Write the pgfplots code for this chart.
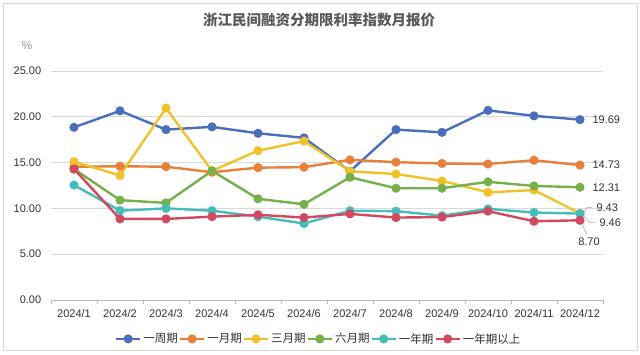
\documentclass[border=0pt]{standalone}
\usepackage{pgfplots}
\pgfplotsset{compat=1.18}
\usepackage{fontspec}
\setmainfont{Liberation Sans}
\newfontfamily\cjk{Noto Sans CJK SC}
\definecolor{cblue}{HTML}{4A6FBA}
\definecolor{corange}{HTML}{E8803A}
\definecolor{cyellow}{HTML}{F0C22A}
\definecolor{cgreen}{HTML}{76B04A}
\definecolor{ccyan}{HTML}{45BDB8}
\definecolor{cred}{HTML}{D2485F}
\definecolor{tickc}{HTML}{333333}
\definecolor{gridc}{HTML}{D9D9D9}
\begin{document}
\begin{tikzpicture}
\path[use as bounding box] (-51pt,-55pt) rectangle (589pt,300pt);
\draw[gridc, line width=0.8pt] (-48pt,-50pt) rectangle (586pt,297pt);
\begin{axis}[
  at={(0,0)}, anchor=south west,
  scale only axis, width=552pt, height=229pt,
  xmin=-0.5, xmax=11.5, ymin=0, ymax=25,
  axis x line*=bottom, axis y line*=left,
  y axis line style={draw=none},
  x axis line style={draw=gray!55, -},
  ytick={0,5,10,15,20,25},
  ymajorgrids, grid style={gridc, line width=0.8pt},
  ytick style={draw=none},
  xtick={0,...,11},
  xticklabels={2024/1,2024/2,2024/3,2024/4,2024/5,2024/6,2024/7,2024/8,2024/9,2024/10,2024/11,2024/12},
  major x tick style={draw=none},
  minor xtick={-0.5,0.5,...,11.5},
  minor x tick style={draw=gray!55, line width=0.6pt},
  minor tick length=4pt,
  tick align=outside,
  ticklabel style={font=\fontsize{11}{12}\selectfont, text=tickc},
  yticklabel style={/pgf/number format/fixed, /pgf/number format/fixed zerofill, /pgf/number format/precision=2, /pgf/number format/assume math mode=true},
  xticklabel style={yshift=-2pt},
  yticklabel style={xshift=-2pt},
  clip=false,
  every axis plot/.append style={line width=2.4pt, mark=*, mark size=3.3pt},
  legend style={at={(axis description cs:0.484,-0.17)}, anchor=center, draw=none, fill=none,
    legend columns=-1, font=\cjk\fontsize{11.5}{13}\selectfont, text=tickc,
    nodes={inner xsep=1pt},
    /tikz/every even column/.append style={column sep=0pt},
    /tikz/every odd column/.append style={column sep=1pt}},
  legend image code/.code={\draw[#1, mark repeat=2, mark phase=2] plot coordinates {(0pt,0pt)(12pt,0pt)(24pt,0pt)};},
]
\addplot[cblue, mark options={fill=cblue}] coordinates {(0,18.85)(1,20.65)(2,18.6)(3,18.9)(4,18.2)(5,17.7)(6,14.05)(7,18.6)(8,18.3)(9,20.7)(10,20.1)(11,19.69)};
\addlegendentry{一周期}
\addplot[corange, mark options={fill=corange}] coordinates {(0,14.55)(1,14.6)(2,14.55)(3,13.95)(4,14.45)(5,14.5)(6,15.3)(7,15.05)(8,14.9)(9,14.85)(10,15.25)(11,14.73)};
\addlegendentry{一月期}
\addplot[cyellow, mark options={fill=cyellow}] coordinates {(0,15.1)(1,13.6)(2,20.95)(3,14.1)(4,16.3)(5,17.35)(6,14.05)(7,13.75)(8,13.0)(9,11.75)(10,12.0)(11,9.46)};
\addlegendentry{三月期}
\addplot[cgreen, mark options={fill=cgreen}] coordinates {(0,14.3)(1,10.9)(2,10.6)(3,14.1)(4,11.05)(5,10.45)(6,13.4)(7,12.2)(8,12.2)(9,12.9)(10,12.45)(11,12.31)};
\addlegendentry{六月期}
\addplot[ccyan, mark options={fill=ccyan}] coordinates {(0,12.55)(1,9.75)(2,10.0)(3,9.75)(4,9.1)(5,8.35)(6,9.75)(7,9.7)(8,9.2)(9,9.95)(10,9.55)(11,9.43)};
\addlegendentry{一年期}
\addplot[cred, mark options={fill=cred}] coordinates {(0,14.3)(1,8.85)(2,8.85)(3,9.1)(4,9.3)(5,9.0)(6,9.4)(7,9.0)(8,9.05)(9,9.7)(10,8.6)(11,8.70)};
\addlegendentry{一年期以上}
\begin{scope}[font=\fontsize{11}{12}\selectfont, text=tickc]
\node[anchor=west] at (axis cs:11,19.69) [xshift=9pt] {19.69};
\node[anchor=west] at (axis cs:11,14.73) [xshift=9pt] {14.73};
\node[anchor=west] at (axis cs:11,12.31) [xshift=9pt] {12.31};
\node[anchor=west] at (axis cs:11,9.43) [xshift=13pt, yshift=6pt] {9.43};
\node[anchor=west] at (axis cs:11,9.46) [xshift=16pt, yshift=-9pt] {9.46};
\node[anchor=center] at (axis cs:11,8.70) [xshift=9pt, yshift=-21pt] {8.70};
\end{scope}
\draw[gray!70, line width=0.5pt] ([xshift=4pt,yshift=1pt]axis cs:11,9.43) -- ([xshift=7pt,yshift=6pt]axis cs:11,9.43) -- ([xshift=12pt,yshift=6pt]axis cs:11,9.43);
\draw[gray!70, line width=0.5pt] ([xshift=4pt,yshift=-2pt]axis cs:11,9.46) -- ([xshift=9pt,yshift=-9pt]axis cs:11,9.46) -- ([xshift=15pt,yshift=-9pt]axis cs:11,9.46);
\draw[gray!70, line width=0.5pt] ([xshift=2pt,yshift=-4pt]axis cs:11,8.70) -- ([xshift=7pt,yshift=-14pt]axis cs:11,8.70);
\end{axis}
\node[font=\cjk\bfseries\fontsize{14.5}{16}\selectfont, text=black!65] at (268pt,280pt) {浙江民间融资分期限利率指数月报价};
\node[font=\fontsize{12}{13}\selectfont, text=black!40] at (-24pt,255pt) {\%};
\end{tikzpicture}
\end{document}
